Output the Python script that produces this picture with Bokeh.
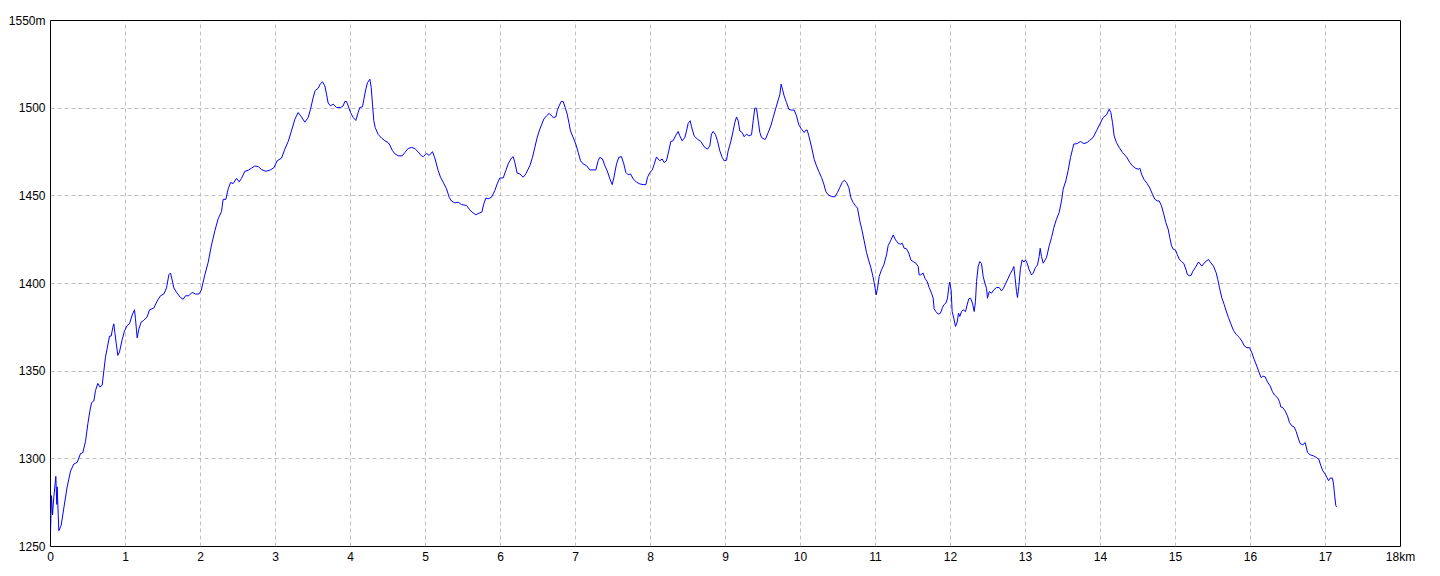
from bokeh.plotting import figure
from bokeh.models import Range1d, FixedTicker
from bokeh.embed import file_html
from bokeh.resources import INLINE

# distance along the route (km) and elevation (m)
dist_km = [
    0.0, 0.013, 0.027, 0.044, 0.071, 0.084, 0.089, 0.111, 0.142, 0.178, 0.222, 0.267, 0.311, 0.356, 0.4,
    0.431, 0.467, 0.498, 0.524, 0.547, 0.578, 0.6, 0.631, 0.658, 0.689, 0.711, 0.733, 0.756, 0.787, 0.809,
    0.831, 0.844, 0.858, 0.876, 0.898, 0.92, 0.956, 0.987, 1.022, 1.053, 1.089, 1.12, 1.133, 1.147, 1.156,
    1.178, 1.209, 1.244, 1.289, 1.32, 1.378, 1.422, 1.467, 1.511, 1.547, 1.578, 1.6, 1.622, 1.644, 1.68,
    1.733, 1.769, 1.8, 1.844, 1.889, 1.933, 1.978, 2.009,
    2.058, 2.102, 2.147, 2.191, 2.236, 2.28, 2.302, 2.338, 2.369, 2.4, 2.436, 2.48, 2.516, 2.547, 2.591,
    2.636, 2.68, 2.724, 2.769, 2.813, 2.871, 2.924, 2.978, 3.022, 3.08, 3.124, 3.169, 3.213, 3.258, 3.302,
    3.347, 3.391, 3.436, 3.467, 3.502, 3.529, 3.569, 3.6, 3.627, 3.658, 3.68, 3.702, 3.733, 3.769, 3.813,
    3.867, 3.902, 3.924, 3.947, 3.969, 4.0, 4.036, 4.071, 4.102, 4.124, 4.16, 4.178, 4.204, 4.227, 4.258,
    4.276, 4.293, 4.311, 4.329, 4.369, 4.413, 4.458, 4.502, 4.524, 4.556, 4.591, 4.636, 4.689, 4.724,
    4.769, 4.813, 4.858, 4.902, 4.947,
    4.969, 5.013, 5.049, 5.093, 5.124, 5.169, 5.2, 5.236, 5.28, 5.316, 5.347, 5.391, 5.436, 5.48, 5.547,
    5.591, 5.636, 5.671, 5.716, 5.751, 5.778, 5.804, 5.836, 5.88, 5.924, 5.956, 5.991, 6.036, 6.071, 6.102,
    6.147, 6.169, 6.191, 6.222, 6.258, 6.302, 6.338, 6.391, 6.427, 6.458, 6.489, 6.524, 6.578, 6.613, 6.649,
    6.68, 6.702, 6.738, 6.756, 6.782, 6.809, 6.836, 6.862, 6.889, 6.916, 6.933, 6.969, 7.004, 7.036, 7.067,
    7.102, 7.147, 7.191, 7.236, 7.271, 7.302, 7.324, 7.36, 7.391, 7.422, 7.458, 7.489, 7.511, 7.547, 7.578,
    7.613, 7.644, 7.671, 7.702, 7.733, 7.769, 7.813, 7.858, 7.902, 7.938,
    7.96, 7.991, 8.022, 8.049, 8.08, 8.102, 8.124, 8.156, 8.182, 8.213, 8.244, 8.271, 8.302, 8.333, 8.369,
    8.391, 8.422, 8.458, 8.48, 8.502, 8.529, 8.547, 8.582, 8.627, 8.671, 8.716, 8.76, 8.791, 8.813, 8.836,
    8.867, 8.893, 8.924, 8.956, 8.982, 9.013, 9.036, 9.071, 9.102, 9.124, 9.147, 9.169, 9.191, 9.222, 9.249,
    9.28, 9.311, 9.347, 9.369, 9.391, 9.413, 9.436, 9.458, 9.48, 9.516, 9.533, 9.569, 9.604, 9.636, 9.671,
    9.702, 9.724, 9.742, 9.76, 9.782, 9.813, 9.844, 9.88, 9.916, 9.947, 9.978, 10.013, 10.049, 10.071,
    10.089, 10.111, 10.147, 10.182, 10.213, 10.244, 10.28, 10.311, 10.338, 10.369, 10.413, 10.458, 10.493,
    10.524, 10.556, 10.582, 10.613, 10.644, 10.671, 10.702, 10.733, 10.76, 10.791, 10.822, 10.849, 10.88,
    10.911, 10.938, 10.964, 10.982,
    11.009, 11.027, 11.049, 11.08, 11.111, 11.147, 11.169, 11.2, 11.236, 11.267, 11.302, 11.333, 11.356,
    11.382, 11.413, 11.444, 11.471, 11.502, 11.538, 11.569, 11.582, 11.6, 11.636, 11.658, 11.689, 11.716,
    11.747, 11.769, 11.782, 11.804, 11.836, 11.867, 11.893, 11.911, 11.938, 11.96, 11.978, 11.991, 12.009,
    12.022, 12.044, 12.067, 12.089, 12.107, 12.124, 12.147, 12.169, 12.2, 12.222, 12.244, 12.267, 12.293,
    12.316, 12.333, 12.347, 12.369, 12.391, 12.413, 12.436, 12.458, 12.48, 12.493, 12.516, 12.547, 12.578,
    12.613, 12.649, 12.68, 12.702, 12.738, 12.769, 12.8, 12.827, 12.844, 12.862, 12.88, 12.893, 12.911,
    12.933, 12.956, 12.978, 13.0, 13.022, 13.049, 13.08, 13.102, 13.133, 13.16, 13.182, 13.196, 13.213,
    13.236,
    13.28, 13.316, 13.347, 13.378, 13.413, 13.449, 13.48, 13.502, 13.538, 13.569, 13.6, 13.627, 13.644,
    13.689, 13.733, 13.778, 13.822, 13.858, 13.902, 13.947, 13.991, 14.036, 14.08, 14.116, 14.138, 14.16,
    14.182, 14.213, 14.249, 14.293, 14.347, 14.391, 14.427, 14.471, 14.507, 14.524, 14.547, 14.578, 14.622,
    14.658, 14.693, 14.724, 14.756, 14.782, 14.813, 14.844, 14.871, 14.902, 14.924, 14.947, 14.969, 15.0,
    15.022, 15.049, 15.08, 15.111, 15.138, 15.156, 15.182,
    15.209, 15.231, 15.262, 15.307, 15.351, 15.396, 15.44, 15.471, 15.507, 15.542, 15.564, 15.587, 15.618,
    15.649, 15.676, 15.707, 15.738, 15.773, 15.809, 15.853, 15.884, 15.92, 15.951, 15.987, 16.018, 16.049,
    16.084, 16.116, 16.142, 16.164, 16.196, 16.227, 16.262, 16.293, 16.32, 16.36, 16.387, 16.404, 16.431,
    16.462, 16.493, 16.52, 16.551, 16.582, 16.609, 16.631, 16.662, 16.698, 16.729, 16.76, 16.796, 16.84,
    16.876, 16.911, 16.938, 16.964, 16.996, 17.018, 17.04, 17.062, 17.093, 17.107, 17.12, 17.138, 17.151,
]

elev_m = [
    1258, 1279, 1268, 1278, 1290, 1274, 1284, 1259, 1262, 1272, 1284, 1293, 1297, 1298, 1303,
    1303.5, 1310, 1320, 1327, 1332, 1333, 1339, 1343, 1341, 1342, 1350, 1358, 1363, 1370, 1370,
    1375, 1377, 1372, 1366, 1359, 1361, 1368, 1373, 1376, 1377, 1382, 1385, 1380, 1373, 1369,
    1374, 1378, 1379, 1381, 1385, 1386, 1390, 1393, 1394, 1397.5, 1405, 1406, 1402, 1397.5, 1395,
    1392, 1391, 1393, 1393, 1395, 1394, 1394, 1396,
    1405, 1412, 1422, 1430, 1437, 1441, 1448, 1448, 1454, 1457.6, 1457, 1460, 1458, 1460, 1464,
    1464.6, 1465.8, 1467, 1466.7, 1465, 1464, 1464.6, 1466, 1470, 1471.5, 1476.6, 1481, 1487, 1493.7, 1497.5,
    1495, 1492, 1494.7, 1499.4, 1506, 1510, 1511.4, 1514, 1515, 1512.7, 1508, 1503, 1501.3, 1502.3, 1500.4,
    1500.4, 1501.3, 1503.8, 1503.8, 1501.3, 1497.5, 1494.7, 1493, 1497.5, 1500.4, 1500.8, 1505, 1510.8, 1514.6, 1516.5,
    1511.8, 1502.3, 1492.8, 1489, 1485, 1483, 1481.4, 1480.4, 1479, 1476, 1474, 1472.8, 1472.8, 1474.7,
    1477, 1477.6, 1477, 1475, 1472.8,
    1472.3, 1474.2, 1473, 1475.2, 1471.6, 1464.4, 1460.6, 1457.8, 1454, 1449.2, 1447, 1446, 1446.4, 1445, 1444.5,
    1442, 1440.2, 1439.2, 1440.2, 1440.7, 1445.5, 1448.7, 1448.3, 1449.2, 1453, 1456.8, 1460.2, 1460.2, 1464.4, 1468.2,
    1471.6, 1472.3, 1469.1, 1462.9, 1462.5, 1460.6, 1462.5, 1467.2, 1472, 1477.7, 1483.3, 1488, 1493.8, 1495.6, 1497,
    1495.6, 1494.7, 1495, 1498.5, 1501.3, 1503.8, 1503.8, 1500.4, 1496.6, 1491, 1487, 1483.3, 1479.5, 1474.8, 1470,
    1468.2, 1467.2, 1464.8, 1464.8, 1464.8, 1470, 1472, 1471, 1467.2, 1464.4, 1459.7, 1456.4, 1460.2, 1468.2, 1472,
    1472.3, 1468.2, 1463.4, 1462, 1462.5, 1459.7, 1457.8, 1456.8, 1456.4, 1456.4,
    1460.5, 1463.3, 1464.6, 1468, 1472.2, 1471, 1470, 1471, 1469, 1470, 1475.7, 1481, 1481.4, 1484.2, 1486.7,
    1484.2, 1481.4, 1483.3, 1487, 1491.3, 1492.8, 1489.4, 1484.2, 1482.3, 1481, 1478, 1476.6, 1478.5, 1485.2, 1486.7,
    1484.8, 1481.4, 1475.7, 1471.9, 1470, 1470.3, 1475.7, 1481, 1487, 1491.8, 1495, 1492.8, 1487, 1486.1, 1483.7,
    1485.2, 1484.2, 1484.8, 1492.8, 1500, 1500, 1492.8, 1486.1, 1483.3, 1482.3, 1482.3, 1486.1, 1489.9, 1494.7, 1500,
    1504.6, 1507.6, 1513.7, 1510.8, 1507, 1503.2, 1499.4, 1498.9, 1498.9, 1495.6, 1490.5, 1488, 1486.1, 1487.5,
    1487.5, 1484.2, 1477.9, 1470.9, 1467.1, 1463.9, 1460.5, 1456.7, 1452.5, 1450.6, 1449.6, 1449.4, 1451.9,
    1454.8, 1457.6, 1458.9, 1457.6, 1454.8, 1449, 1446.2, 1444.3, 1443, 1435.7, 1430, 1424.3, 1417.7,
    1412.9, 1409.1, 1404.4, 1400.6,
    1393.5, 1397.3, 1404, 1407.8, 1410.6, 1416.3, 1421.7, 1424.3, 1427.7, 1424.9, 1423, 1422.4, 1423,
    1420.1, 1419.8, 1417.3, 1413.5, 1412.5, 1411.6, 1409.7, 1404.9, 1404.9, 1405.9, 1403, 1401.1, 1397.7,
    1394.5, 1391.6, 1385.6, 1384, 1382.5, 1383.1, 1386.3, 1387.8, 1388.8, 1391.6, 1398.3, 1400.8, 1395.8,
    1384, 1380.2, 1375.5, 1378, 1383.1, 1381.2, 1384, 1385, 1384, 1387.8, 1391.3, 1391.6, 1388.8,
    1384, 1389.7, 1401.1, 1409.7, 1412.5, 1411.4, 1404, 1400.2, 1397.3, 1391.6, 1395.4, 1394.5, 1396.4,
    1397.7, 1397.7, 1395.8, 1397, 1400.2, 1403, 1405.9, 1407.8, 1409.7, 1403, 1395.4, 1392, 1398.3,
    1408.7, 1413.5, 1412.2, 1413.5, 1411.6, 1407.8, 1404.9, 1405.9, 1409.1, 1410.6, 1415.4, 1420.1, 1415.4,
    1411.6,
    1414.8, 1421.5, 1426.2, 1431.9, 1436.7, 1440.5, 1447.1, 1453.8, 1458.6, 1464.6, 1471.9, 1476.6, 1479.5,
    1479.8, 1481, 1479.8, 1480.4, 1481.7, 1483.3, 1487.1, 1490.9, 1494.7, 1496.2, 1499.4, 1497.5, 1491.8,
    1484.2, 1480.4, 1477.6, 1474.7, 1472.2, 1469, 1467.1, 1465.6, 1465.2, 1465.8, 1462.4, 1459.5, 1457,
    1454.4, 1450.9, 1448.1, 1447.1, 1447.1, 1444.3, 1439.5, 1434.8, 1431, 1426.2, 1421.5, 1419.6, 1419,
    1416.7, 1413.9, 1412.5, 1411.4, 1408.2, 1405.3, 1404.4,
    1404.7, 1407, 1408.9, 1412.3, 1409.9, 1412.3, 1413.7, 1411.8, 1409.9, 1406.1, 1402.3, 1397.5, 1391.8,
    1388, 1384.3, 1380.5, 1377, 1373.2, 1371, 1369.1, 1367.2, 1364.3, 1363.4, 1363.4, 1360.5, 1356.7,
    1352.9, 1349.1, 1346.3, 1347.2, 1346.7, 1343.8, 1341.6, 1338.3, 1336.4, 1334.9, 1332.6, 1329.6, 1329.2,
    1327.3, 1324.5, 1320.7, 1318.8, 1318.2, 1315.6, 1312.5, 1308.7, 1308, 1309.3, 1303.6, 1302.3, 1301.7,
    1300.8, 1299.8, 1296, 1293.2, 1291.3, 1289.4, 1287.5, 1289, 1289, 1285.6, 1279.9, 1273.2, 1272.6,
]

x_ticks = list(range(0, 19))
y_ticks = list(range(1250, 1551, 50))
x_label_overrides = {18: "18km"}
y_label_overrides = {1550: "1550m"}

FONT = "Liberation Sans"

p = figure(
    width=1432, height=570,
    output_backend="svg", toolbar_location=None,
    x_range=Range1d(0, 18), y_range=Range1d(1250, 1550),
    min_border_left=50, min_border_right=32, min_border_top=20, min_border_bottom=24,
    background_fill_color="white", border_fill_color="white",
)
p.outline_line_color = "black"
p.outline_line_width = 1
p.outline_line_alpha = 1.0

p.line(dist_km, elev_m, line_color="#0000ff", line_width=1)

for ax in (p.xaxis[0], p.yaxis[0]):
    ax.axis_line_color = None
    ax.major_tick_in = 0
    ax.major_tick_out = 0
    ax.minor_tick_line_color = None
    ax.major_label_text_font = FONT
    ax.major_label_text_font_size = "12px"
    ax.major_label_text_color = "black"

p.xaxis.ticker = FixedTicker(ticks=x_ticks)
p.yaxis.ticker = FixedTicker(ticks=y_ticks)
p.xaxis.major_label_overrides = x_label_overrides
p.yaxis.major_label_overrides = y_label_overrides
p.xaxis.major_label_standoff = 3
p.yaxis.major_label_standoff = 5

p.xgrid.ticker = FixedTicker(ticks=x_ticks)
p.ygrid.ticker = FixedTicker(ticks=y_ticks)
for g in (p.xgrid[0], p.ygrid[0]):
    g.grid_line_color = "#c0c0c0"
    g.grid_line_dash = "4 3"
    g.grid_line_width = 1

open("out.html", "w").write(file_html(p, INLINE))
